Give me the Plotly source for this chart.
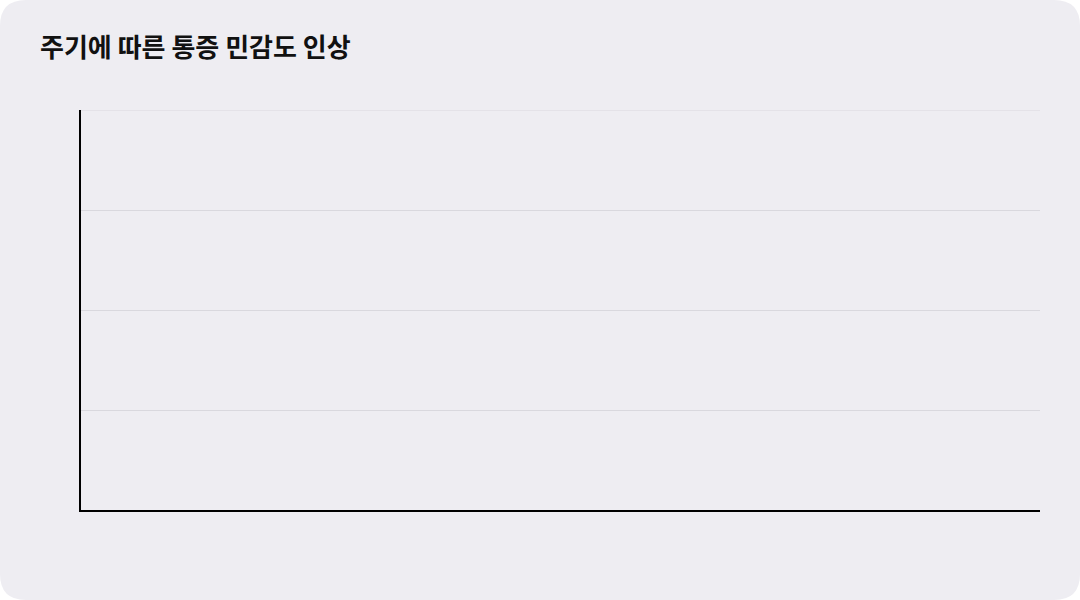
import plotly.graph_objects as go

# The reference shows an empty chart: axes and grid only, no series drawn
cycles = []
sensitivity = []

y_ticks = [0, 1, 2, 3, 4]

W, H = 1080, 600
ML, MR, MT, MB = 81, 40, 110, 90
PW, PH = W - ML - MR, H - MT - MB
grid_color = "#D9D8DE"


def px(x, y):
    # pixel -> paper coordinates
    return (x - ML) / PW, (H - MB - y) / PH


def card_path(r=26):
    pts = []
    def p(x, y):
        a, b = px(x, y)
        return f"{a:.5f},{b:.5f}"
    pts.append("M" + p(r, 0))
    pts.append("L" + p(W - r, 0))
    pts.append("Q" + p(W, 0) + " " + p(W, r))
    pts.append("L" + p(W, H - r))
    pts.append("Q" + p(W, H) + " " + p(W - r, H))
    pts.append("L" + p(r, H))
    pts.append("Q" + p(0, H) + " " + p(0, H - r))
    pts.append("L" + p(0, r))
    pts.append("Q" + p(0, 0) + " " + p(r, 0))
    return " ".join(pts) + " Z"


card = "#EEEDF2"

fig = go.Figure()
fig.add_trace(go.Scatter(x=cycles, y=sensitivity, mode="lines",
                         line=dict(color="#3B6FE0", width=2), showlegend=False))

# plotly drops the gridline that sits on the top edge, so draw it as a shape
top_grid = dict(type="line", xref="paper", yref="y", x0=0, x1=1,
                y0=y_ticks[-1], y1=y_ticks[-1], line=dict(color=grid_color, width=1),
                layer="below")

fig.update_layout(
    width=W, height=H,
    margin=dict(l=ML, r=MR, t=MT, b=MB),
    paper_bgcolor="white",
    plot_bgcolor=card,
    title=dict(text="<b>주기에 따른 통증 민감도 인상</b>", xref="container", yref="container",
               x=40 / W, xanchor="left", y=1 - 48 / H, yanchor="middle",
               font=dict(family="Noto Sans CJK KR", size=26, color="#111111")),
    font=dict(family="Noto Sans CJK KR"),
    shapes=[dict(type="path", path=card_path(), xref="paper", yref="paper",
                 fillcolor=card, line=dict(width=0), layer="below"),
            top_grid],
    showlegend=False,
)
fig.update_xaxes(range=[0, 1], showgrid=False, zeroline=False, showticklabels=False,
                 showline=True, linecolor="black", linewidth=2, ticks="")
fig.update_yaxes(range=[0, 4], tickvals=y_ticks, showgrid=True,
                 gridcolor=grid_color, gridwidth=1, zeroline=False, showticklabels=False,
                 showline=True, linecolor="black", linewidth=2, ticks="")

fig.write_html("out.html", config={"displayModeBar": False},
               post_script="document.body.style.margin='0';")
